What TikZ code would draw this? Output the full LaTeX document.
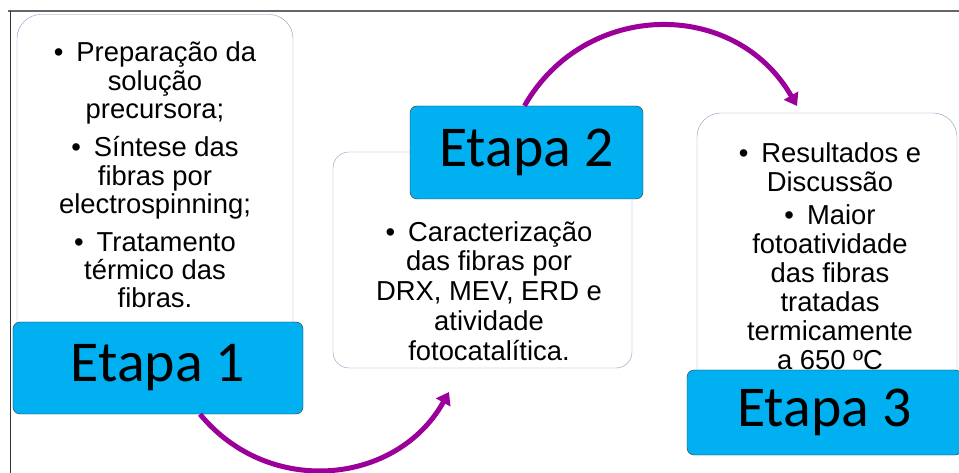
\documentclass[tikz,border=0pt]{standalone}
\usepackage{fontspec}
\setmainfont{Liberation Sans}
\newfontfamily\etapafont{Carlito}
\usetikzlibrary{arrows.meta}
\definecolor{etapablue}{RGB}{0,176,240}
\definecolor{boxedge}{RGB}{135,155,185}
\definecolor{arcpurple}{RGB}{155,0,155}
\newcommand{\bul}{•\hskip 13bp}

\begin{document}
\begin{tikzpicture}[x=1bp,y=-1bp,
    infobox/.style={draw=boxedge,fill=white,rounded corners=24bp,inner sep=0pt},
    etapa/.style={draw=black!80,fill=etapablue,rounded corners=7bp,inner sep=0pt,
        font=\etapafont\fontsize{58}{60}\selectfont},
    bullets/.style={align=center,inner sep=0pt,font=\fontsize{27.5}{29}\selectfont},
    flow/.style={arcpurple,line width=5bp,-{Triangle[length=12bp,width=16bp]}}]
    \useasboundingbox (0,0) rectangle (959,473);
    \fill[white] (0,0) rectangle (959,473);

    % frame
    \draw[black!60,line width=2bp] (8,11) -- (959,11);
    \draw[black!80,line width=1bp] (10,11) -- (10,473);

    % white boxes
    \node[infobox,minimum width=276bp,minimum height=345bp] (b1) at (155,187) {};
    \node[infobox,minimum width=299bp,minimum height=216bp,rounded corners=16bp] (b2) at (482.5,260) {};
    \node[infobox,minimum width=260bp,minimum height=306bp] (b3) at (827,266) {};

    \node[bullets,font=\fontsize{27.5}{28.5}\selectfont] (t1) at (155,175)
        {\bul Preparação da\\ solução\\ precursora;\\[10bp] \bul Síntese das\\ fibras por\\
         electrospinning;\\[9bp] \bul Tratamento\\ térmico das\\ fibras.};
    \node[bullets,font=\fontsize{27.5}{30}\selectfont] (t2) at (489,291)
        {\bul Caracterização\\ das fibras por\\ DRX, MEV, ERD e\\ atividade\\ fotocatalítica.};
    \node[bullets] (t3) at (830,256)
        {\bul Resultados e\\ Discussão\\[5bp] \bul Maior\\ fotoatividade\\ das fibras\\
         tratadas\\ termicamente\\ a 650 ºC};

    % etapas
    \node[etapa,minimum width=290bp,minimum height=92bp] (e1) at (158,368) {Etapa 1};
    \node[etapa,minimum width=233bp,minimum height=93bp] (e2) at (526.5,152.5) {Etapa 2};
    \node[etapa,minimum width=275bp,minimum height=85bp] (e3) at (824.5,412.5) {Etapa 3};

    % arcs
    \coordinate (h2) at (449,392);
    \coordinate (h3) at (797,106);
    \draw[flow] ([xshift=42bp]e1.south) .. controls (269,498) and (397,485) .. (h2);
    \draw[flow] ([xshift=-2bp]e2.north) .. controls (585,0) and (735,-2) .. (h3);
\end{tikzpicture}
\end{document}
